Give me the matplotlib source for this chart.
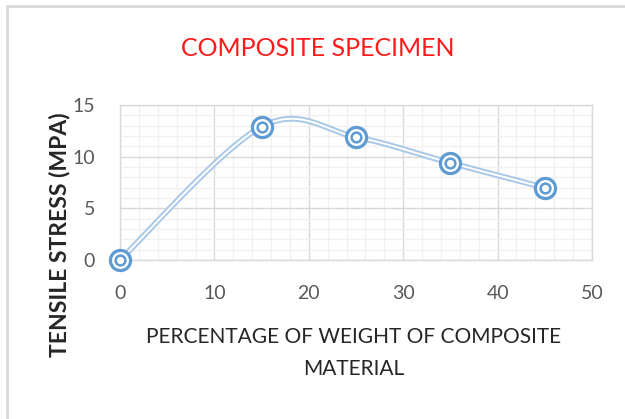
import numpy as np
import matplotlib
matplotlib.use('Agg')
import matplotlib.pyplot as plt
from matplotlib.patches import Rectangle
from matplotlib.ticker import MultipleLocator

# data
weight_pct = [0, 15, 25, 35, 45]
tensile = [0, 12.9, 11.9, 9.4, 7.0]

title = 'COMPOSITE SPECIMEN'
xlabel = 'PERCENTAGE OF WEIGHT OF COMPOSITE\nMATERIAL'
ylabel = 'TENSILE STRESS (MPA)'

FONT = ['Lato', 'DejaVu Sans']


def smooth(xs, ys, n=40):
    # excel style smoothed line: cubic bezier with catmull-rom control points
    pts = np.column_stack([xs, ys]).astype(float)
    out = []
    for i in range(len(pts) - 1):
        p0 = pts[max(i - 1, 0)]
        p1 = pts[i]
        p2 = pts[i + 1]
        p3 = pts[min(i + 2, len(pts) - 1)]
        c1 = p1 + (p2 - p0) / 6
        c2 = p2 - (p3 - p1) / 6
        t = np.linspace(0, 1, n)[:, None]
        seg = ((1 - t) ** 3 * p1 + 3 * (1 - t) ** 2 * t * c1
               + 3 * (1 - t) * t ** 2 * c2 + t ** 3 * p2)
        out.append(seg if i == 0 else seg[1:])
    out = np.vstack(out)
    return out[:, 0], out[:, 1]


fig = plt.figure(figsize=(6.25, 4.19), dpi=100)
fig.patches.append(Rectangle((7 / 625, -0.1), 1.2, (419 - 6) / 419 + 0.1,
                             transform=fig.transFigure, fill=False,
                             edgecolor='#d9d9d9', linewidth=2))

ax = fig.add_axes([120 / 625, (419 - 260) / 419, 472 / 625, 155 / 419])
ax.set_xlim(0, 50)
ax.set_ylim(0, 15)
ax.xaxis.set_major_locator(MultipleLocator(10))
ax.xaxis.set_minor_locator(MultipleLocator(2))
ax.yaxis.set_major_locator(MultipleLocator(5))
ax.yaxis.set_minor_locator(MultipleLocator(1))
ax.grid(True, which='minor', color='#f0f0f0', linewidth=1)
ax.grid(True, which='major', color='#d9d9d9', linewidth=1)
ax.set_axisbelow(True)
for s in ax.spines.values():
    s.set_color('#d9d9d9')
    s.set_linewidth(1)
ax.tick_params(which='both', length=0)
ax.tick_params(axis='x', pad=18, labelsize=14, labelcolor='#595959')
ax.tick_params(axis='y', pad=18, labelsize=14, labelcolor='#595959')
for lab in ax.get_xticklabels() + ax.get_yticklabels():
    lab.set_family(FONT)

sx, sy = smooth(weight_pct, tensile)
ax.plot(sx, sy, color='#a9c8e8', linewidth=4.2, solid_capstyle='round',
        clip_on=False, zorder=3)
ax.plot(sx, sy, color='white', linewidth=1.4, solid_capstyle='round',
        clip_on=False, zorder=4)
ax.plot(weight_pct, tensile, linestyle='none', marker='o', markersize=14.5,
        markerfacecolor='white', markeredgecolor='#5f9bd3',
        markeredgewidth=2.3, clip_on=False, zorder=5)
ax.plot(weight_pct, tensile, linestyle='none', marker='o', markersize=7,
        markerfacecolor='white', markeredgecolor='#5f9bd3',
        markeredgewidth=1.8, clip_on=False, zorder=6)

fig.text(318 / 625, 1 - 49 / 419, title, color='#ff1a1a', fontsize=18,
         family=FONT, ha='center', va='center')
fig.text(354 / 625, 1 - 353 / 419, xlabel, color='#262626', fontsize=15,
         family=FONT, ha='center', va='center', linespacing=1.7)
fig.text(60 / 625, 1 - 235 / 419, ylabel, color='#262626', fontsize=16.5,
         family=FONT, fontweight='bold', ha='center', va='center',
         rotation=90)

fig.savefig('out.png', dpi=100)
